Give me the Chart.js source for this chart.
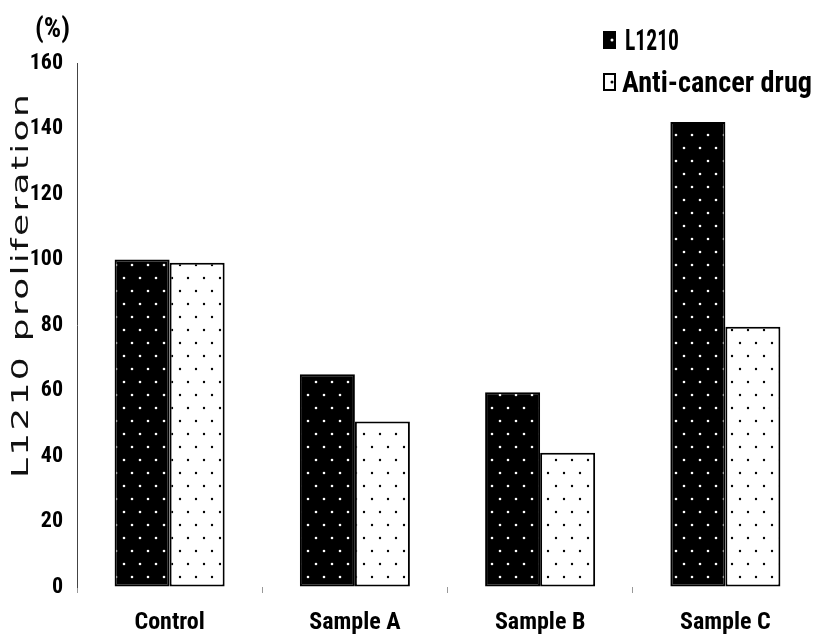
<!DOCTYPE html>
<html>
<head>
<meta charset="utf-8">
<script src="https://cdn.jsdelivr.net/npm/chart.js@4.4.1/dist/chart.umd.min.js"></script>
<style>
  html, body { margin: 0; padding: 0; background: #fff; }
  #wrap { width: 818px; height: 643px; position: relative; }
</style>
</head>
<body>
<div id="wrap"><canvas id="barChart"></canvas></div>
<script>
/* dados */
const categories = ['Control', 'Sample A', 'Sample B', 'Sample C'];
const l1210Values = [100, 65, 59.5, 142];
const drugValues = [99, 50.5, 41, 79.5];
const seriesNames = ['L1210', 'Anti-cancer drug'];
const yAxisTitle = 'L1210 proliferation';
const yUnit = '(%)';

const NARROW = '"Roboto Condensed", "DejaVu Sans Condensed", sans-serif';

/* padrão pontilhado: fundo + pontos em linhas alternadas */
function dotPattern(bg, dot, r) {
  const c = document.createElement('canvas');
  c.width = 16; c.height = 26;
  const g = c.getContext('2d');
  g.fillStyle = bg;
  g.fillRect(0, 0, 16, 26);
  g.fillStyle = dot;
  [[4, 5], [12, 18]].forEach(([x, y]) => {
    g.beginPath();
    g.arc(x, y, r, 0, Math.PI * 2);
    g.fill();
  });
  return g.createPattern(c, 'repeat');
}

const blackDots = dotPattern('#000', '#fff', 1.3);
const whiteDots = dotPattern('#fff', '#000', 1.2);

/* texto esticado/comprimido na horizontal até uma largura alvo */
function fitText(ctx, text, x, y, width) {
  const w = ctx.measureText(text).width;
  ctx.save();
  ctx.translate(x, y);
  ctx.scale(width / w, 1);
  ctx.fillText(text, 0, 0);
  ctx.restore();
}

/* título do eixo Y, unidade e legenda desenhados à mão */
const decorPlugin = {
  id: 'decor',
  afterDraw(chart) {
    const ctx = chart.ctx;

    // título vertical (fonte larga, como no original)
    ctx.save();
    ctx.fillStyle = '#111';
    ctx.translate(28, 478);
    ctx.rotate(-Math.PI / 2);
    ctx.font = '23px "DejaVu Sans", sans-serif';
    ctx.letterSpacing = '1.5px';
    ctx.textAlign = 'left';
    ctx.textBaseline = 'alphabetic';
    fitText(ctx, yAxisTitle, 0, 0, 386);
    ctx.restore();

    ctx.save();
    ctx.fillStyle = '#000';
    ctx.font = 'bold 27px ' + NARROW;
    ctx.textAlign = 'left';
    ctx.textBaseline = 'alphabetic';
    fitText(ctx, yUnit, 35, 37, 35);
    ctx.restore();

    // legenda
    const rows = [
      { y: 50, fill: '#000', dot: '#fff', stroke: false, tx: 625, tw: 54 },
      { y: 92, fill: '#fff', dot: '#000', stroke: true, tx: 622, tw: 190 },
    ];
    ctx.save();
    rows.forEach((row, i) => {
      const bx = 603, by = row.y - 19, bw = 13, bh = 18;
      ctx.fillStyle = row.fill;
      ctx.fillRect(bx, by, bw, bh);
      if (row.stroke) {
        ctx.strokeStyle = '#000';
        ctx.lineWidth = 2;
        ctx.strokeRect(bx + 1, by + 1, bw - 2, bh - 2);
      }
      ctx.fillStyle = row.dot;
      ctx.beginPath();
      ctx.arc(bx + 9, by + 9, 1.5, 0, Math.PI * 2);
      ctx.fill();

      ctx.fillStyle = '#000';
      ctx.font = 'bold 30px ' + NARROW;
      ctx.textAlign = 'left';
      ctx.textBaseline = 'alphabetic';
      fitText(ctx, seriesNames[i], row.tx, row.y, row.tw);
    });
    ctx.restore();
  },
};

const ctx = document.getElementById('barChart').getContext('2d');

new Chart(ctx, {
  type: 'bar',
  data: {
    labels: categories,
    datasets: [
      {
        label: seriesNames[0],
        data: l1210Values,
        backgroundColor: blackDots,
        borderColor: '#000',
        borderWidth: 2,
        borderSkipped: false,
      },
      {
        label: seriesNames[1],
        data: drugValues,
        backgroundColor: whiteDots,
        borderColor: '#000',
        borderWidth: 2,
        borderSkipped: false,
      },
    ],
  },
  options: {
    responsive: true,
    maintainAspectRatio: false,
    animation: false,
    layout: { padding: { top: 63, right: 0, bottom: 0, left: 0 } },
    plugins: {
      legend: { display: false },
      tooltip: { enabled: false },
    },
    datasets: {
      bar: { barPercentage: 1.0, categoryPercentage: 0.594 },
    },
    scales: {
      x: {
        grid: {
          offset: true,
          drawOnChartArea: false,
          drawTicks: true,
          tickLength: 6,
          color: '#999',
        },
        border: { display: false },
        ticks: {
          color: '#000',
          padding: 16,
          font: { family: NARROW, size: 24, weight: 'bold' },
        },
        afterFit(scale) { scale.height = 56; },
      },
      y: {
        min: 0,
        max: 160,
        ticks: {
          stepSize: 20,
          color: '#000',
          padding: 14,
          font: { family: NARROW, size: 22, weight: 'bold' },
        },
        grid: { display: true, drawOnChartArea: false, drawTicks: false },
        border: { display: true, color: '#444', width: 1, dash: [9, 2] },
        afterFit(scale) { scale.width = 77; },
      },
    },
  },
  plugins: [decorPlugin],
});
</script>
</body>
</html>
